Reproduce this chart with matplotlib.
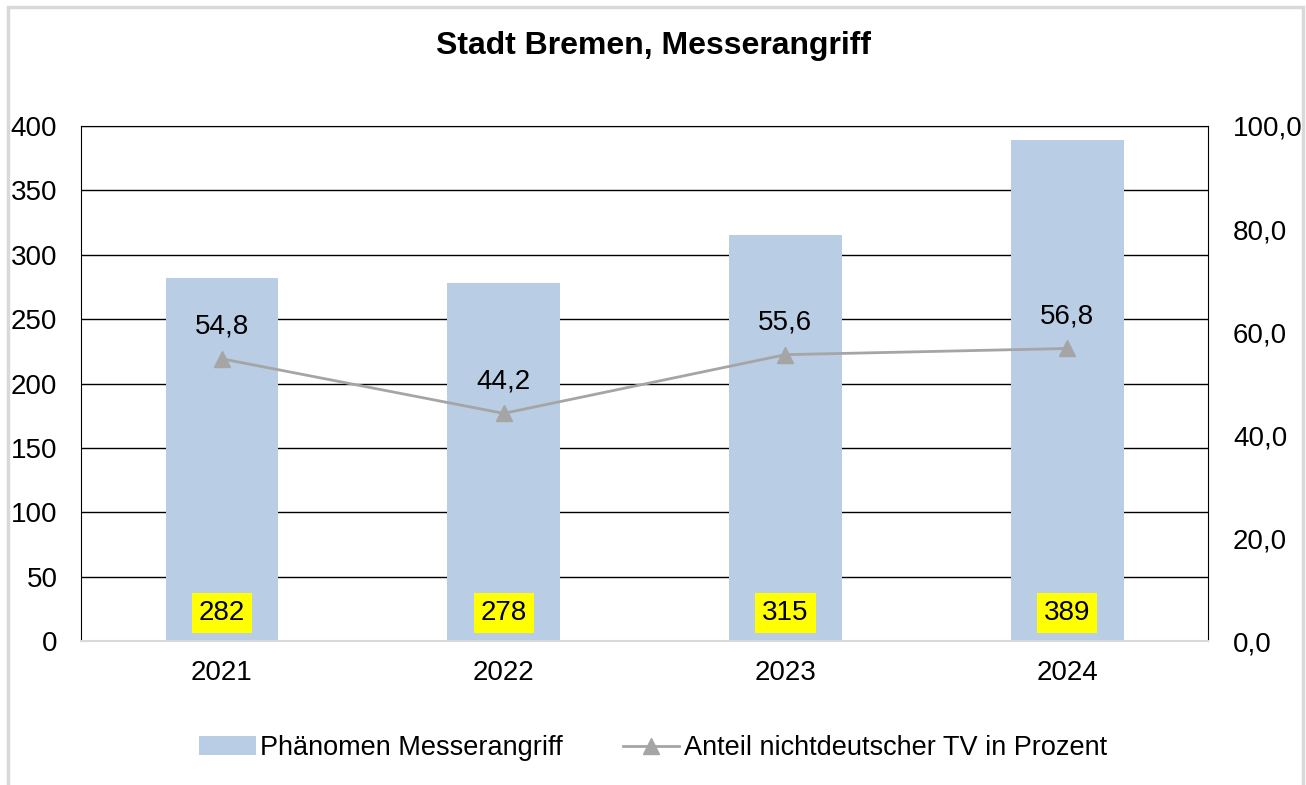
import matplotlib.pyplot as plt
from matplotlib.patches import Rectangle
from matplotlib.ticker import MultipleLocator, FuncFormatter

plt.rcParams['font.family'] = ['Liberation Sans', 'DejaVu Sans']

# Daten
years = ['2021', '2022', '2023', '2024']
faelle = [282, 278, 315, 389]
anteil = [54.8, 44.2, 55.6, 56.8]

bar_color = '#B9CDE5'
line_color = '#A5A5A5'

fig = plt.figure(figsize=(13.06, 7.85), dpi=100)
# grauer Rahmen (unten offen wie im Original)
fig.patches.append(Rectangle((0.0062, -0.02), 0.9915, 1.0105, transform=fig.transFigure,
                             fill=False, edgecolor='#D9D9D9', linewidth=2.5))

ax = fig.add_axes([0.062, 0.1834, 0.863, 0.6561])
x = list(range(len(years)))

bars = ax.bar(x, faelle, width=0.4, color=bar_color, zorder=2, label='Phänomen Messerangriff')
ax.set_xlim(-0.5, 3.5)
ax.set_ylim(0, 400)
ax.yaxis.set_major_locator(MultipleLocator(50))
ax.set_xticks(x)
ax.set_xticklabels(years)
ax.tick_params(axis='both', length=0, labelsize=20)
ax.tick_params(axis='x', pad=14)
ax.tick_params(axis='y', pad=17)
ax.grid(axis='y', color='black', linewidth=1, zorder=0)
for s in ['left', 'right', 'top']:
    ax.spines[s].set_color('black')
ax.spines['bottom'].set_color('#D9D9D9')
ax.spines['bottom'].set_linewidth(1.5)

# Fallzahlen in gelben Kästchen
for xi, v in zip(x, faelle):
    ax.annotate(str(v), (xi, 0), xytext=(0, 20.5), textcoords='offset points',
                ha='center', va='center', fontsize=20,
                bbox=dict(boxstyle='square,pad=0.25', facecolor='yellow', edgecolor='none'),
                zorder=5)

ax2 = ax.twinx()
ax2.set_ylim(0, 100)
ax2.yaxis.set_major_locator(MultipleLocator(20))
ax2.yaxis.set_major_formatter(FuncFormatter(lambda v, p: f'{v:.1f}'.replace('.', ',')))
ax2.tick_params(axis='y', length=0, labelsize=20, pad=18)
line, = ax2.plot(x, anteil, color=line_color, linewidth=2, marker='^', markersize=11,
                 label='Anteil nichtdeutscher TV in Prozent')
for s in ax2.spines.values():
    s.set_visible(False)

for xi, v in zip(x, anteil):
    ax2.annotate(f'{v:.1f}'.replace('.', ','), (xi, v), xytext=(0, 23), textcoords='offset points',
                 ha='center', va='center', fontsize=20)

fig.text(0.5, 0.941, 'Stadt Bremen, Messerangriff', ha='center', va='center',
         fontsize=23, fontweight='bold')

fig.legend([bars, line], ['Phänomen Messerangriff', 'Anteil nichtdeutscher TV in Prozent'],
           loc='center', bbox_to_anchor=(0.5, 0.047), ncol=2, frameon=False,
           fontsize=19.5, columnspacing=2.2, handlelength=2.1, handletextpad=0.15)

fig.savefig('out.png', dpi=100)
